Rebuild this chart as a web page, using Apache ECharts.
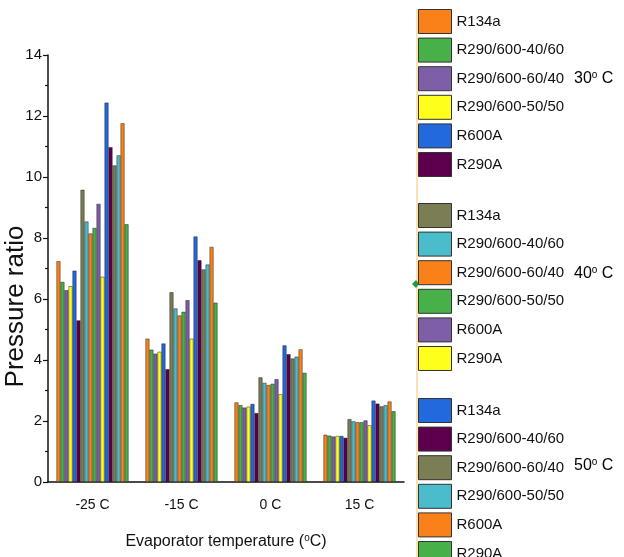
<!DOCTYPE html>
<html>
<head>
<meta charset="utf-8">
<script src="https://cdn.jsdelivr.net/npm/echarts@6/dist/echarts.min.js"></script>
<style>
  html, body { margin: 0; padding: 0; background: #fff; }
  #chart { width: 624px; height: 557px; }
</style>
</head>
<body>
<div id="chart"></div>
<script>
// x categories
const categories = ['-25 C', '-15 C', '0 C', '15 C'];
const refrigerants = ['R134a', 'R290/600-40/60', 'R290/600-60/40', 'R290/600-50/50', 'R600A', 'R290A'];
const temps = ['30', '40', '50'];

// pressure ratio per refrigerant, one list per condensing temperature
const pr30 = [
  [7.24, 4.70, 2.61, 1.55],
  [6.56, 4.34, 2.52, 1.52],
  [6.29, 4.21, 2.44, 1.49],
  [6.42, 4.27, 2.47, 1.51],
  [6.93, 4.54, 2.56, 1.51],
  [5.30, 3.70, 2.26, 1.45]
];
const pr40 = [
  [9.58, 6.22, 3.43, 2.06],
  [8.54, 5.69, 3.25, 1.99],
  [8.15, 5.46, 3.18, 1.96],
  [8.33, 5.58, 3.22, 1.96],
  [9.12, 5.96, 3.37, 2.02],
  [6.73, 4.70, 2.88, 1.86]
];
const pr50 = [
  [12.44, 8.05, 4.48, 2.67],
  [10.98, 7.27, 4.19, 2.57],
  [10.38, 6.97, 4.05, 2.48],
  [10.71, 7.13, 4.11, 2.52],
  [11.76, 7.71, 4.35, 2.64],
  [8.45, 5.88, 3.58, 2.32]
];

const orange = '#fa801a', green = '#47b049', purple = '#7f5ea8', yellow = '#ffff1c',
      blue = '#2369de', plum = '#5c004e', olive = '#7b7e54', cyan = '#4abccb';
const colors30 = [orange, green, purple, yellow, blue, plum];
const colors40 = [olive, cyan, orange, green, purple, yellow];
const colors50 = [blue, plum, olive, cyan, orange, green];

const allVals = [pr30, pr40, pr50];
const allColors = [colors30, colors40, colors50];

const FONT = "'Liberation Sans', Arial, sans-serif";

let series = [];
let legends = [];
const legendTops = [9, 203, 398];

temps.forEach((t, gi) => {
  let names = [];
  refrigerants.forEach((r, ri) => {
    const name = r + '|' + t;
    names.push(name);
    series.push({
      name: name,
      type: 'bar',
      barGap: 0,
      barCategoryGap: '19%',
      data: allVals[gi][ri],
      itemStyle: {
        color: allColors[gi][ri],
        borderColor: 'rgba(20,20,20,0.75)',
        borderWidth: 0.6
      }
    });
  });
  legends.push({
    data: names,
    orient: 'vertical',
    left: 418,
    top: legendTops[gi],
    height: 200,
    padding: 0,
    itemWidth: 33,
    itemHeight: 24,
    itemGap: 3.6,
    icon: 'rect',
    selectedMode: false,
    itemStyle: { borderColor: '#333', borderWidth: 1 },
    textStyle: { fontFamily: FONT, fontSize: 15, color: '#111' },
    formatter: (n) => n.split('|')[0]
  });
});

const supRich = {
  a: { fontFamily: FONT, fontSize: 16, color: '#111' },
  s: { fontFamily: FONT, fontSize: 10, color: '#111', padding: [0, 0, 8, 0] }
};

const chart = echarts.init(document.getElementById('chart'));
chart.setOption({
  animation: false,
  color: colors30,
  grid: { left: 48, right: 220, top: 55, bottom: 75, containLabel: false, outerBoundsMode: 'none' },
  legend: legends,
  xAxis: [
    {
      type: 'category',
      data: categories,
      axisLine: { lineStyle: { color: '#111', width: 1.5 } },
      axisTick: { alignWithLabel: true, length: 6, lineStyle: { color: '#111', width: 1.2 } },
      axisLabel: { fontFamily: FONT, fontSize: 14, color: '#111', margin: 16 },
      name: 'Evaporator temperature ({s|o}C)',
      nameLocation: 'middle',
      nameGap: 51,
      nameTextStyle: {
        fontFamily: FONT, fontSize: 16, color: '#111',
        rich: { s: { fontFamily: FONT, fontSize: 10, color: '#111', padding: [0, 0, 8, 0] } }
      }
    },
    {
      // short ticks at category borders
      type: 'category',
      data: categories,
      position: 'bottom',
      axisLine: { show: false },
      axisTick: { length: 3, lineStyle: { color: '#111', width: 1.2 } },
      axisLabel: { show: false }
    }
  ],
  yAxis: {
    type: 'value',
    min: 0,
    max: 14,
    interval: 2,
    axisLine: { show: true, lineStyle: { color: '#111', width: 1.5 } },
    axisTick: { show: true, length: 5, lineStyle: { color: '#111', width: 1.2 } },
    minorTick: { show: true, splitNumber: 2, length: 3, lineStyle: { color: '#111', width: 1.2 } },
    splitLine: { show: false },
    axisLabel: { fontFamily: FONT, fontSize: 15, color: '#111', margin: 6 },
    name: 'Pressure ratio',
    nameLocation: 'middle',
    nameGap: 19,
    nameMoveOverlap: false,
    // padding on the right pushes the rotated name down along the axis
    nameTextStyle: { fontFamily: FONT, fontSize: 26, color: '#111', padding: [0, 76, 0, 0] }
  },
  graphic: [
    {
      type: 'line',
      shape: { x1: 417, y1: 9, x2: 417, y2: 557 },
      style: { stroke: '#fbe2b2', lineWidth: 2 },
      z: -1
    },
    {
      type: 'polygon',
      shape: { points: [[412, 284], [416, 280], [419, 284], [416, 288]] },
      style: { fill: '#1e9a3a' }
    },
    { type: 'text', left: 574, top: 70, style: { text: '{a|30}{s|o}{a| C}', rich: supRich } },
    { type: 'text', left: 574, top: 265, style: { text: '{a|40}{s|o}{a| C}', rich: supRich } },
    { type: 'text', left: 574, top: 457, style: { text: '{a|50}{s|o}{a| C}', rich: supRich } }
  ],
  series: series
});
</script>
</body>
</html>
